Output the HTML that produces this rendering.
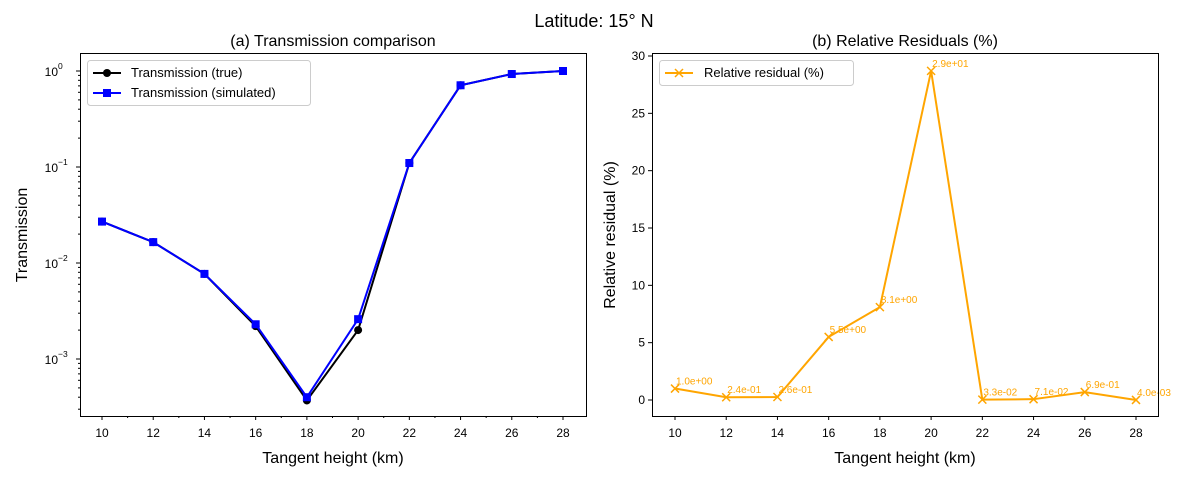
<!DOCTYPE html>
<html><head><meta charset="utf-8"><style>
body{margin:0;background:#fff}
svg{font-family:"Liberation Sans","DejaVu Sans",sans-serif}
</style></head><body>
<svg id="c" width="1189" height="479" xmlns="http://www.w3.org/2000/svg"></svg>
<script>
const heights=[10,12,14,16,18,20,22,24,26,28];
const transTrue=[0.027,0.0165,0.0077,0.0022,0.00037,0.0020,0.11,0.71,0.93,1.0];
const transSim=[0.027,0.0165,0.0077,0.0023,0.00040,0.0026,0.11,0.71,0.93,1.0];
const residual=[1.0,0.24,0.26,5.5,8.1,28.7,0.033,0.071,0.69,0.004];
const residualLabels=["1.0e+00","2.4e-01","2.6e-01","5.5e+00","8.1e+00","2.9e+01","3.3e-02","7.1e-02","6.9e-01","4.0e-03"];
const logTicks=[1,0.1,0.01,0.001];
const logTickLabels=[["10","0"],["10","−1"],["10","−2"],["10","−3"]];
const resTicks=[0,5,10,15,20,25,30];

const NS="http://www.w3.org/2000/svg";
const svg=document.getElementById('c');
function mk(t,a,p){const e=document.createElementNS(NS,t);for(const k in a)e.setAttribute(k,a[k]);(p||svg).appendChild(e);return e;}
function txt(s,a,p){const e=mk('text',a,p);e.textContent=s;return e;}

const xL=h=>102+(h-10)*(563-102)/18;
const yL=v=>71-96*Math.log10(v);
const xR=h=>675+(h-10)*(1136-675)/18;
const yR=v=>400-v*(400-56)/30;

let t=txt('Latitude: 15° N',{x:594,y:27,'text-anchor':'middle','font-size':18});


// left
const gL=mk('g',{});

t=txt('(a) Transmission comparison',{x:333,y:46,'text-anchor':'middle','font-size':16},gL);

heights.forEach(h=>{mk('line',{x1:xL(h),x2:xL(h),y1:416,y2:420,stroke:'#000'},gL);
 txt(h,{x:xL(h),y:437,'text-anchor':'middle','font-size':12},gL);
 if(h<28)mk('line',{x1:xL(h+1),x2:xL(h+1),y1:416,y2:418,stroke:'#000'},gL);});
logTicks.forEach((v,i)=>{const y=yL(v);mk('line',{x1:76,x2:80,y1:y,y2:y,stroke:'#000'},gL);
 const e=txt(logTickLabels[i][0],{x:58,y:y+5,'text-anchor':'end','font-size':12},gL);
 txt(logTickLabels[i][1],{x:58,y:y-2,'font-size':8.5},gL);});
for(let d=-4;d<=0;d++)for(let m=2;m<=9;m++){const v=m*Math.pow(10,d);const y=yL(v);if(y>53&&y<416)mk('line',{x1:78,x2:80,y1:y,y2:y,stroke:'#000'},gL);}
t=txt('Tangent height (km)',{x:333,y:463,'text-anchor':'middle','font-size':16},gL);

t=txt('Transmission',{x:0,y:0,'text-anchor':'middle','font-size':16,transform:'translate(27,235) rotate(-90)'},gL);

let p=mk('polyline',{points:heights.map((h,i)=>xL(h)+','+yL(transTrue[i])).join(' '),fill:'none',stroke:'#000','stroke-width':2},gL);

heights.forEach((h,i)=>mk('circle',{cx:xL(h),cy:yL(transTrue[i]),r:4,fill:'#000'},gL));
p=mk('polyline',{points:heights.map((h,i)=>xL(h)+','+yL(transSim[i])).join(' '),fill:'none',stroke:'#00f','stroke-width':2},gL);

heights.forEach((h,i)=>mk('rect',{x:xL(h)-4,y:yL(transSim[i])-4,width:8,height:8,fill:'#00f'},gL));
mk('rect',{x:80.5,y:53.5,width:506,height:363,fill:'none',stroke:'#000'},gL);
const lg=mk('g',{},gL);
mk('rect',{x:87.5,y:60.5,width:223,height:45,rx:3,fill:'#fff',stroke:'#ccc'},lg);
mk('line',{x1:93,x2:121,y1:73,y2:73,stroke:'#000','stroke-width':2},lg);mk('circle',{cx:107,cy:73,r:4,fill:'#000'},lg);
txt('Transmission (true)',{x:131,y:77,'font-size':13},lg);
mk('line',{x1:93,x2:121,y1:93,y2:93,stroke:'#00f','stroke-width':2},lg);mk('rect',{x:103,y:89,width:8,height:8,fill:'#00f'},lg);
txt('Transmission (simulated)',{x:131,y:97,'font-size':13},lg);

// right
const gR=mk('g',{});

t=txt('(b) Relative Residuals (%)',{x:905,y:46,'text-anchor':'middle','font-size':16},gR);

heights.forEach(h=>{mk('line',{x1:xR(h),x2:xR(h),y1:416,y2:420,stroke:'#000'},gR);
 txt(h,{x:xR(h),y:437,'text-anchor':'middle','font-size':12},gR);});
resTicks.forEach(v=>{const y=yR(v);mk('line',{x1:648,x2:652,y1:y,y2:y,stroke:'#000'},gR);
 txt(v,{x:645,y:y+4,'text-anchor':'end','font-size':12},gR);});
t=txt('Tangent height (km)',{x:905,y:463,'text-anchor':'middle','font-size':16},gR);

t=txt('Relative residual (%)',{x:0,y:0,'text-anchor':'middle','font-size':16,transform:'translate(615,235) rotate(-90)'},gR);

p=mk('polyline',{points:heights.map((h,i)=>xR(h)+','+yR(residual[i])).join(' '),fill:'none',stroke:'#ffa500','stroke-width':2},gR);

heights.forEach((h,i)=>{const x=xR(h),y=yR(residual[i]);
 mk('path',{d:`M${x-4},${y-4}L${x+4},${y+4}M${x-4},${y+4}L${x+4},${y-4}`,stroke:'#ffa500','stroke-width':1.5},gR);
 txt(residualLabels[i],{x:x+1,y:y-4,'font-size':10,fill:'#ffa500'},gR);});
mk('rect',{x:652.5,y:53.5,width:506,height:363,fill:'none',stroke:'#000'},gR);
const lr=mk('g',{},gR);
mk('rect',{x:659.5,y:60.5,width:194,height:25,rx:3,fill:'#fff',stroke:'#ccc'},lr);
mk('line',{x1:665,x2:693,y1:73,y2:73,stroke:'#ffa500','stroke-width':2},lr);
mk('path',{d:'M675,69L683,77M675,77L683,69',stroke:'#ffa500','stroke-width':1.5},lr);
txt('Relative residual (%)',{x:704,y:77,'font-size':13},lr);
</script>
</body></html>
